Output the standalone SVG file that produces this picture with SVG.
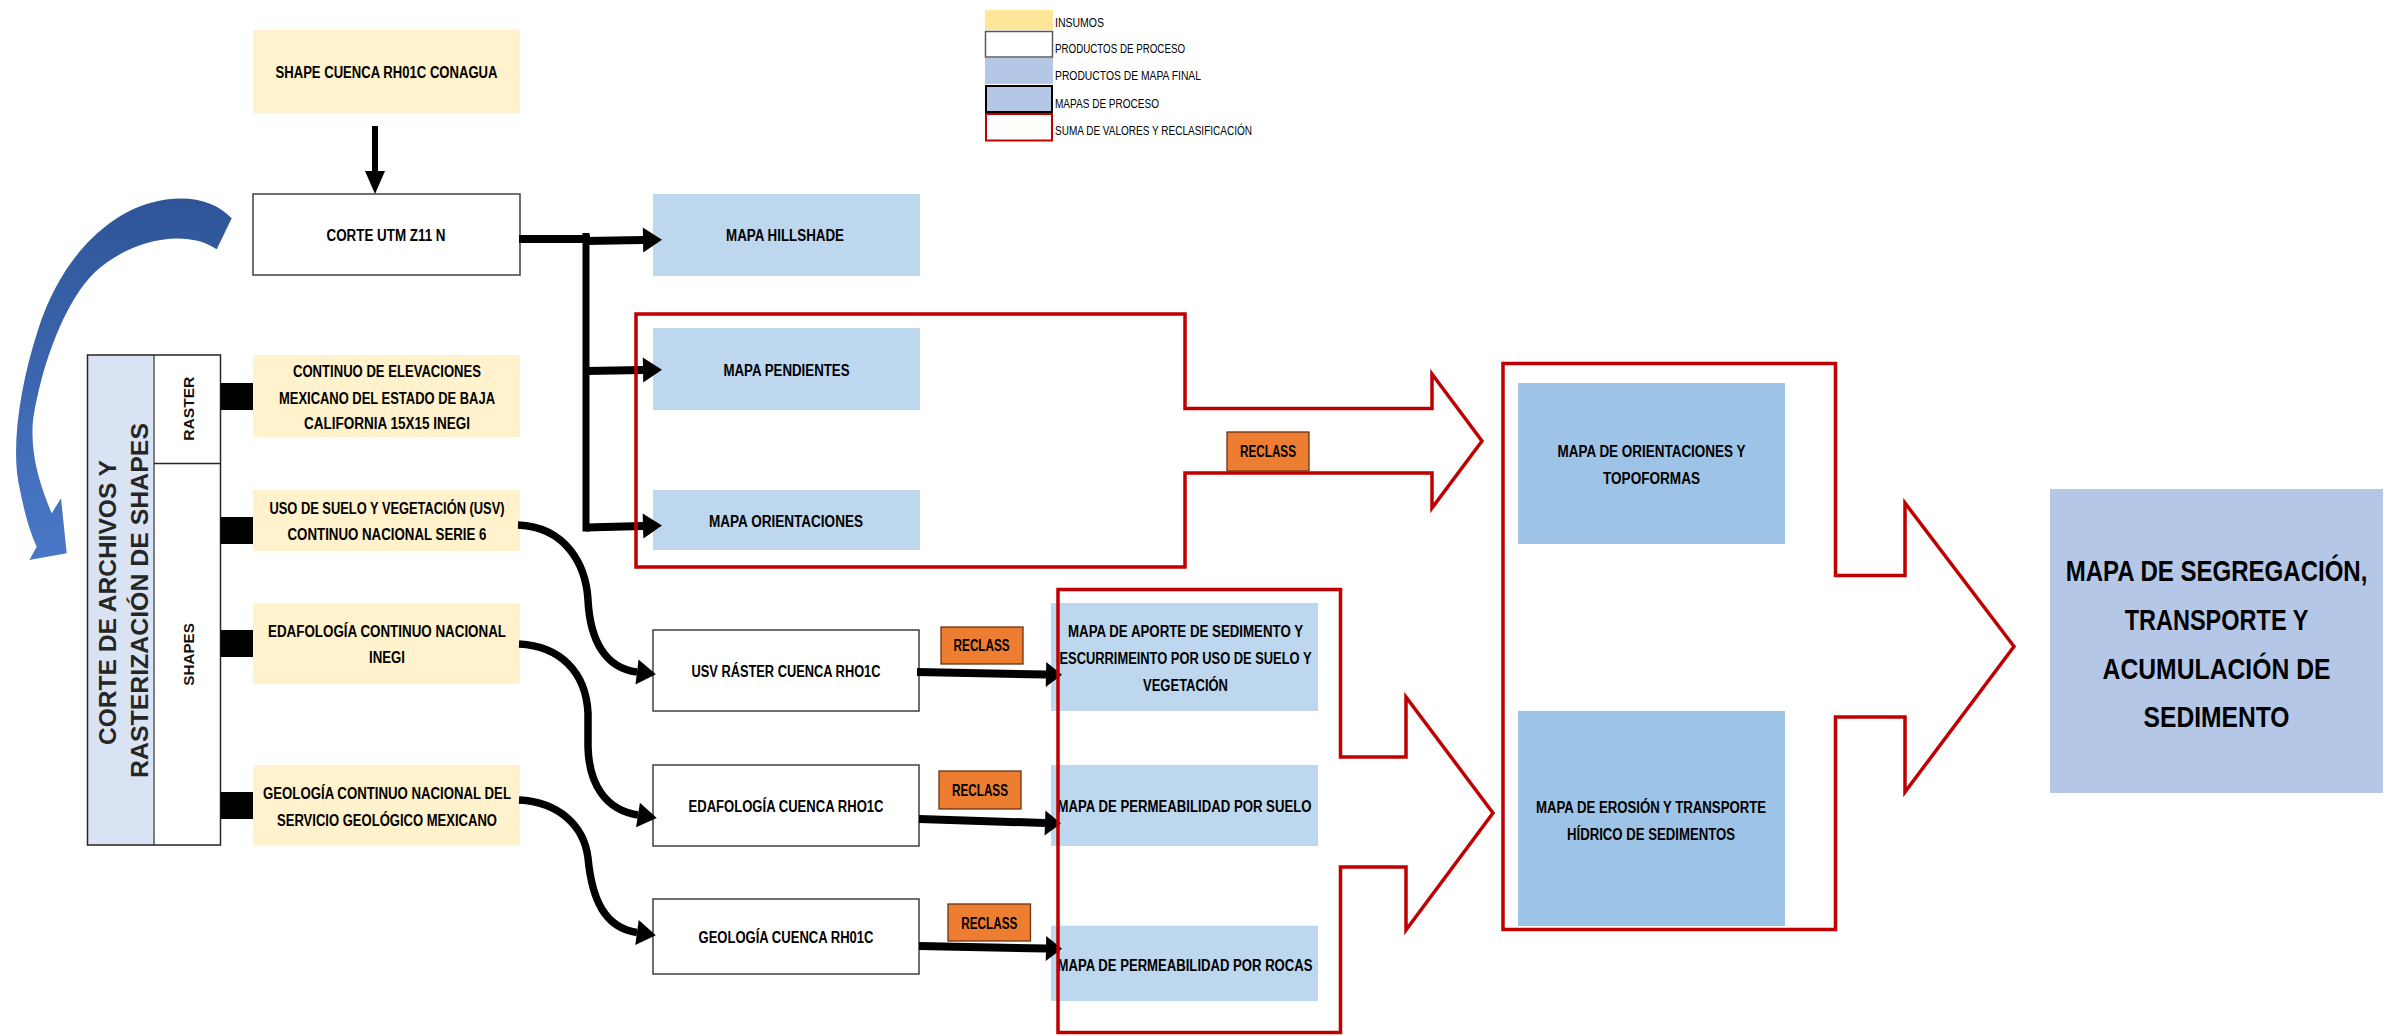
<svg xmlns="http://www.w3.org/2000/svg" width="2392" height="1036" viewBox="0 0 2392 1036">
  <defs>
    <style>
      .t{font-family:"Liberation Sans Narrow","Liberation Sans",Arial,sans-serif;font-weight:bold;font-size:16px;fill:#000;text-anchor:middle}
      .big{font-size:29px}
      .lg{font-family:"Liberation Sans Narrow","Liberation Sans",Arial,sans-serif;font-size:12px;fill:#000}
      .ttl{font-family:"Liberation Sans",Arial,sans-serif;font-weight:bold;font-size:24px;fill:#262626;text-anchor:middle}
      .vt{font-family:"Liberation Sans",Arial,sans-serif;font-weight:bold;font-size:14px;fill:#111;text-anchor:middle}
      .in{fill:#FFF2CC}
      .pr{fill:#fff;stroke:#404040;stroke-width:1.5}
      .mf{fill:#BDD7EE}
      .mp{fill:#9DC3E6}
      .fin{fill:#B4C7E7}
      .rc{fill:#ED7D31;stroke:#6b3410;stroke-width:1.3}
      .red{fill:none;stroke:#C00000;stroke-width:3.5;stroke-linejoin:miter}
      .ln{fill:none;stroke:#000;stroke-width:8}
      .cv{fill:none;stroke:#000;stroke-width:7.5}
    </style>
    <marker id="ah" markerUnits="userSpaceOnUse" markerWidth="20" markerHeight="26" refX="0" refY="12.5" orient="auto" overflow="visible">
      <path d="M0,0 L19,12.5 L0,25 Z" fill="#000"/>
    </marker>
    <marker id="ahf" markerUnits="userSpaceOnUse" markerWidth="17" markerHeight="26" refX="0" refY="12.5" orient="auto" overflow="visible">
      <path d="M0,0 L16,12.5 L0,25 Z" fill="#000"/>
    </marker>
    <marker id="ahd" markerUnits="userSpaceOnUse" markerWidth="24" markerHeight="21" refX="0" refY="10" orient="auto" overflow="visible">
      <path d="M0,0 L23,10 L0,20 Z" fill="#000"/>
    </marker>
    <linearGradient id="arcFill" x1="0" y1="0" x2="0" y2="1">
      <stop offset="0" stop-color="#2F5597"/>
      <stop offset="1" stop-color="#4A78C8"/>
    </linearGradient>
  </defs>

  <rect width="2392" height="1036" fill="#fff"/>

  <!-- legend -->
  <g id="legend">
    <rect x="985" y="10" width="68" height="20" fill="#FFE699"/>
    <rect x="985.5" y="31.5" width="67" height="25.5" fill="#fff" stroke="#595959" stroke-width="1.5"/>
    <rect x="985" y="58" width="68" height="26" fill="#B4C7E7"/>
    <rect x="986" y="86" width="66" height="26" fill="#B4C7E7" stroke="#000" stroke-width="2"/>
    <rect x="986" y="114" width="66" height="26.5" fill="#fff" stroke="#C00000" stroke-width="2"/>
    <text class="lg" x="1055" y="26.5" textLength="49" lengthAdjust="spacingAndGlyphs">INSUMOS</text>
    <text class="lg" x="1055" y="52.5" textLength="130" lengthAdjust="spacingAndGlyphs">PRODUCTOS DE PROCESO</text>
    <text class="lg" x="1055" y="80" textLength="146" lengthAdjust="spacingAndGlyphs">PRODUCTOS DE MAPA FINAL</text>
    <text class="lg" x="1055" y="107.5" textLength="104" lengthAdjust="spacingAndGlyphs">MAPAS DE PROCESO</text>
    <text class="lg" x="1055" y="135" textLength="197" lengthAdjust="spacingAndGlyphs">SUMA DE VALORES Y RECLASIFICACIÓN</text>
  </g>

  <!-- curved block arrow beside the side panel -->
  <g id="blue-arc">
    <path fill="url(#arcFill)" d="M231.7,218.3 C215,200 185,193 150,203 C105,216 60,260 38,330 C20,385 10,450 20,490 C25,515 30,532 36.7,546.7 L29.3,560 L66.7,553.3 L61,498.3 L51.7,513.3 C40,485 30,455 33,420 C42,362 66,300 95,272 C130,240 185,228 216.7,249.3 Z"/>
  </g>

  <!-- inputs -->
  <g id="n-shape">
    <rect class="in" x="253" y="30" width="267" height="83"/>
    <text class="t" x="386.5" y="78" textLength="222" lengthAdjust="spacingAndGlyphs">SHAPE CUENCA RH01C CONAGUA</text>
  </g>
  <g id="n-corte">
    <rect class="pr" x="253" y="194" width="267" height="81"/>
    <text class="t" x="386" y="240.5" textLength="119" lengthAdjust="spacingAndGlyphs">CORTE UTM Z11 N</text>
  </g>

  <!-- side panel -->
  <g id="n-panel">
    <rect x="87.5" y="355" width="66.5" height="490" fill="#DAE3F3"/>
    <rect x="154" y="355" width="66.5" height="490" fill="#fff"/>
    <line x1="154" y1="355" x2="154" y2="845" stroke="#7F7F7F" stroke-width="2"/>
    <line x1="154" y1="463.5" x2="220.5" y2="463.5" stroke="#262626" stroke-width="1.5"/>
    <rect x="87.5" y="355" width="133" height="490" fill="none" stroke="#262626" stroke-width="1.5"/>
    <text class="ttl" transform="translate(116,602.5) rotate(-90)" textLength="285" lengthAdjust="spacingAndGlyphs">CORTE DE ARCHIVOS Y</text>
    <text class="ttl" transform="translate(147.5,600.5) rotate(-90)" textLength="355" lengthAdjust="spacingAndGlyphs">RASTERIZACIÓN DE SHAPES</text>
    <text class="vt" transform="translate(193.5,408.7) rotate(-90)" textLength="64" lengthAdjust="spacingAndGlyphs">RASTER</text>
    <text class="vt" transform="translate(193.5,654.4) rotate(-90)" textLength="62.5" lengthAdjust="spacingAndGlyphs">SHAPES</text>
  </g>

  <g id="n-continuo">
    <rect class="in" x="253" y="355" width="267" height="82"/>
    <text class="t" x="387" y="376.8" textLength="188" lengthAdjust="spacingAndGlyphs">CONTINUO DE ELEVACIONES</text>
    <text class="t" x="387" y="403.5" textLength="216" lengthAdjust="spacingAndGlyphs">MEXICANO DEL ESTADO DE BAJA</text>
    <text class="t" x="387" y="429.3" textLength="166" lengthAdjust="spacingAndGlyphs">CALIFORNIA 15X15 INEGI</text>
  </g>
  <g id="n-usv">
    <rect class="in" x="253" y="490" width="267" height="61"/>
    <text class="t" x="387" y="513.5" textLength="235" lengthAdjust="spacingAndGlyphs">USO DE SUELO Y VEGETACIÓN (USV)</text>
    <text class="t" x="387" y="540" textLength="199" lengthAdjust="spacingAndGlyphs">CONTINUO NACIONAL SERIE 6</text>
  </g>
  <g id="n-edaf">
    <rect class="in" x="253" y="603.5" width="267" height="80.5"/>
    <text class="t" x="387" y="637.4" textLength="238" lengthAdjust="spacingAndGlyphs">EDAFOLOGÍA CONTINUO NACIONAL</text>
    <text class="t" x="387" y="663.4" textLength="36" lengthAdjust="spacingAndGlyphs">INEGI</text>
  </g>
  <g id="n-geo">
    <rect class="in" x="253" y="765" width="267" height="80.5"/>
    <text class="t" x="387" y="798.7" textLength="248" lengthAdjust="spacingAndGlyphs">GEOLOGÍA CONTINUO NACIONAL DEL</text>
    <text class="t" x="387" y="825.5" textLength="220" lengthAdjust="spacingAndGlyphs">SERVICIO GEOLÓGICO MEXICANO</text>
  </g>

  <!-- derived maps -->
  <g id="n-hillshade">
    <rect class="mf" x="653" y="194" width="267" height="82"/>
    <text class="t" x="785" y="241" textLength="118" lengthAdjust="spacingAndGlyphs">MAPA HILLSHADE</text>
  </g>
  <g id="n-pendientes">
    <rect class="mf" x="653" y="328" width="267" height="82"/>
    <text class="t" x="786.5" y="375.5" textLength="126" lengthAdjust="spacingAndGlyphs">MAPA PENDIENTES</text>
  </g>
  <g id="n-orientaciones">
    <rect class="mf" x="653" y="490" width="267" height="60"/>
    <text class="t" x="786" y="526.5" textLength="154" lengthAdjust="spacingAndGlyphs">MAPA ORIENTACIONES</text>
  </g>

  <g id="n-usv-raster">
    <rect class="pr" x="653" y="630" width="266" height="81"/>
    <text class="t" x="786" y="677" textLength="189" lengthAdjust="spacingAndGlyphs">USV RÁSTER CUENCA RHO1C</text>
  </g>
  <g id="n-edaf-cuenca">
    <rect class="pr" x="653" y="765" width="266" height="81"/>
    <text class="t" x="786" y="812" textLength="195" lengthAdjust="spacingAndGlyphs">EDAFOLOGÍA CUENCA RHO1C</text>
  </g>
  <g id="n-geo-cuenca">
    <rect class="pr" x="653" y="899" width="266" height="75"/>
    <text class="t" x="786" y="943" textLength="175" lengthAdjust="spacingAndGlyphs">GEOLOGÍA CUENCA RH01C</text>
  </g>

  <g id="n-aporte">
    <rect class="mf" x="1051" y="603" width="267" height="108"/>
    <text class="t" x="1185.5" y="637" textLength="235" lengthAdjust="spacingAndGlyphs">MAPA DE APORTE DE SEDIMENTO Y</text>
    <text class="t" x="1185.5" y="664" textLength="252" lengthAdjust="spacingAndGlyphs">ESCURRIMEINTO POR USO DE SUELO Y</text>
    <text class="t" x="1185.5" y="690.7" textLength="85" lengthAdjust="spacingAndGlyphs">VEGETACIÓN</text>
  </g>
  <g id="n-perm-suelo">
    <rect class="mf" x="1051" y="765" width="267" height="81"/>
    <text class="t" x="1184.5" y="812" textLength="254" lengthAdjust="spacingAndGlyphs">MAPA DE PERMEABILIDAD POR SUELO</text>
  </g>
  <g id="n-perm-rocas">
    <rect class="mf" x="1051" y="925.7" width="267" height="75.3"/>
    <text class="t" x="1185" y="970.5" textLength="255" lengthAdjust="spacingAndGlyphs">MAPA DE PERMEABILIDAD POR ROCAS</text>
  </g>

  <g id="n-topoformas">
    <rect class="mp" x="1518" y="383" width="267" height="161"/>
    <text class="t" x="1651.5" y="456.5" textLength="188" lengthAdjust="spacingAndGlyphs">MAPA DE ORIENTACIONES Y</text>
    <text class="t" x="1651.5" y="483.5" textLength="97" lengthAdjust="spacingAndGlyphs">TOPOFORMAS</text>
  </g>
  <g id="n-erosion">
    <rect class="mp" x="1518" y="711" width="267" height="215"/>
    <text class="t" x="1651" y="813" textLength="230" lengthAdjust="spacingAndGlyphs">MAPA DE EROSIÓN Y TRANSPORTE</text>
    <text class="t" x="1651" y="840" textLength="168" lengthAdjust="spacingAndGlyphs">HÍDRICO DE SEDIMENTOS</text>
  </g>

  <g id="n-final">
    <rect class="fin" x="2050" y="489" width="333" height="304"/>
    <!-- condensed heading: horizontal squeeze keeps the wide letters inside the box -->
    <g transform="translate(2216.5,0) scale(0.82,1)">
      <text class="t big" x="0" y="581" textLength="368" lengthAdjust="spacingAndGlyphs">MAPA DE SEGREGACIÓN,</text>
      <text class="t big" x="0" y="630" textLength="224" lengthAdjust="spacingAndGlyphs">TRANSPORTE Y</text>
      <text class="t big" x="0" y="679" textLength="278" lengthAdjust="spacingAndGlyphs">ACUMULACIÓN DE</text>
      <text class="t big" x="0" y="727.5" textLength="178" lengthAdjust="spacingAndGlyphs">SEDIMENTO</text>
    </g>
  </g>

  <!-- connectors -->
  <g id="connectors">
    <path d="M375,126 V171" stroke="#000" stroke-width="6" fill="none" marker-end="url(#ahd)"/>
    <path class="ln" d="M519,239 H590"/>
    <path d="M586,233 V531.5" stroke="#000" stroke-width="7" fill="none"/>
    <path class="ln" d="M586,241 L643,240" marker-end="url(#ah)"/>
    <path class="ln" d="M586,371 L643,370" marker-end="url(#ah)"/>
    <path class="ln" d="M586,527.5 L643,526" marker-end="url(#ah)"/>
    <rect x="220.5" y="383" width="32.5" height="27" fill="#000"/>
    <rect x="220.5" y="517" width="32.5" height="27" fill="#000"/>
    <rect x="220.5" y="630" width="32.5" height="27" fill="#000"/>
    <rect x="220.5" y="792" width="32.5" height="27" fill="#000"/>
    <path class="cv" d="M518,525 C566,527 586,565 588,600 C590,640 605,668 637,672" marker-end="url(#ah)"/>
    <path class="cv" d="M519,644 C560,646 586,672 588,713 L588,747 C589,785 606,810 638,815" marker-end="url(#ah)"/>
    <path class="cv" d="M519,800 C558,802 584,825 588,858 C592,900 605,928 637,932.5" marker-end="url(#ah)"/>
    <path class="ln" d="M917,672 L1046,674.5" stroke-width="9" marker-end="url(#ahf)"/>
    <path class="ln" d="M919,819 L1045,823" stroke-width="9" marker-end="url(#ahf)"/>
    <path class="ln" d="M919,946 L1046,948.5" stroke-width="9" marker-end="url(#ahf)"/>
  </g>

  <!-- summation / reclassification outlines -->
  <g id="sum-1">
    <polygon class="red" points="636,314 1185,314 1185,408.5 1432,408.5 1432,374 1482,441 1432,508 1432,473 1185,473 1185,567 636,567"/>
  </g>
  <g id="sum-2">
    <polygon class="red" points="1058,589.5 1340.5,589.5 1340.5,757 1406,757 1406,697 1493,813 1406,930 1406,867 1340.5,867 1340.5,1032.5 1058,1032.5"/>
  </g>
  <g id="sum-3">
    <polygon class="red" points="1503,363.5 1835.5,363.5 1835.5,575.5 1905,575.5 1905,503 2014,646.5 1905,792 1905,717 1835.5,717 1835.5,929.5 1503,929.5"/>
  </g>

  <g id="rc-1">
    <rect class="rc" x="1227" y="432" width="82" height="39"/>
    <text class="t" x="1268" y="456.5" textLength="56" lengthAdjust="spacingAndGlyphs">RECLASS</text>
  </g>
  <g id="rc-2">
    <rect class="rc" x="941" y="627" width="82" height="37"/>
    <text class="t" x="981.6" y="650.5" textLength="56" lengthAdjust="spacingAndGlyphs">RECLASS</text>
  </g>
  <g id="rc-3">
    <rect class="rc" x="939" y="771" width="82" height="38"/>
    <text class="t" x="980" y="796" textLength="56" lengthAdjust="spacingAndGlyphs">RECLASS</text>
  </g>
  <g id="rc-4">
    <rect class="rc" x="948" y="904" width="82.5" height="37"/>
    <text class="t" x="989.3" y="929" textLength="56" lengthAdjust="spacingAndGlyphs">RECLASS</text>
  </g>
</svg>
